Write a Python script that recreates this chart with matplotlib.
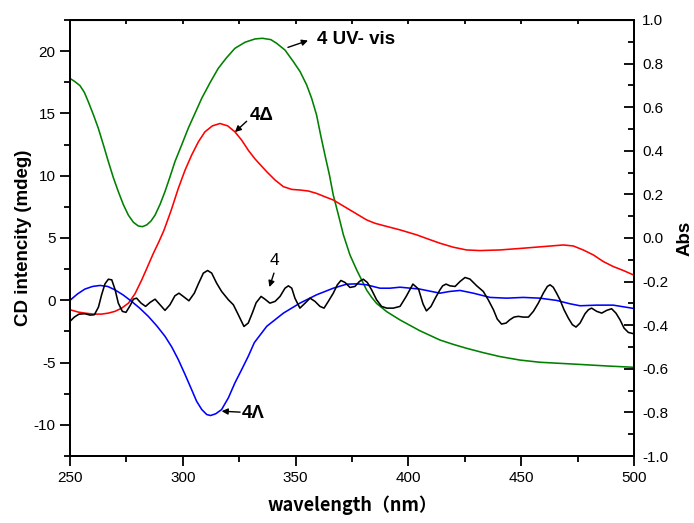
import numpy as np
import matplotlib
matplotlib.use('Agg')
import matplotlib.pyplot as plt
from matplotlib.ticker import MultipleLocator

plt.rcParams['font.family'] = ['Liberation Sans', 'DejaVu Sans']
plt.rcParams['axes.unicode_minus'] = False

# UV-vis absorbance of 4 (right axis, green)
uv_wl = [250.0, 252.2, 254.4, 256.35, 258.1, 260.3, 262.55, 264.8, 267.0, 269.2, 271.4,
         273.6, 275.85, 278.1, 280.3, 282.1, 284.0, 285.9, 287.7, 289.9, 292.1, 294.3,
         296.5, 299.5, 302.4, 305.4, 308.4, 312.05, 315.7, 319.4, 323.1, 327.6, 332.0,
         335.3, 339.0, 341.6, 345.3, 349.0, 352.0, 354.9, 357.1, 359.3, 361.1, 363.0,
         365.0, 366.7, 369.0, 371.2, 374.1, 377.1, 379.3, 381.5, 383.7, 385.9, 390.4,
         396.3, 405.0, 414.0, 419.9, 425.8, 433.2, 440.6, 449.5, 458.3, 467.2, 476.1,
         487.9, 499.7]
uv_abs = [0.732, 0.717, 0.699, 0.668, 0.625, 0.567, 0.503, 0.427, 0.350, 0.277, 0.213,
          0.154, 0.105, 0.072, 0.055, 0.052, 0.060, 0.078, 0.105, 0.154, 0.213, 0.280,
          0.350, 0.427, 0.503, 0.572, 0.641, 0.712, 0.778, 0.827, 0.870, 0.898, 0.913,
          0.916, 0.910, 0.893, 0.862, 0.809, 0.763, 0.702, 0.641, 0.564, 0.472, 0.381,
          0.289, 0.197, 0.105, 0.014, -0.078, -0.147, -0.193, -0.239, -0.272, -0.300, -0.338,
          -0.376, -0.425, -0.468, -0.488, -0.506, -0.526, -0.544, -0.560, -0.570, -0.575, -0.580,
          -0.587, -0.593]

# CD of 4-Delta (red)
delta_wl = [250.0, 253.7, 256.6, 260.3, 264.0, 267.0, 269.9, 272.9, 275.9, 278.8, 281.8,
            284.4, 286.9, 289.4, 291.6, 294.8, 298.0, 301.0, 303.9, 306.9, 309.8, 313.1,
            316.5, 319.9, 323.1, 326.1, 329.2, 332.0, 334.5, 337.2, 340.9, 344.6, 348.3,
            352.0, 355.7, 359.3, 363.0, 366.7, 370.4, 374.1, 377.8, 381.5, 385.2, 388.9,
            396.3, 403.7, 409.0, 414.0, 419.9, 425.8, 431.7, 440.6, 450.9, 459.8, 468.7,
            473.1, 477.5, 482.0, 486.4, 490.8, 495.3, 499.7]
delta_cd = [-0.76, -0.95, -1.03, -1.11, -1.11, -1.03, -0.89, -0.63, -0.23, 0.52, 1.64,
            2.71, 3.75, 4.7, 5.6, 7.2, 8.98, 10.45, 11.65, 12.72, 13.52, 14.0,
            14.19, 14.0, 13.52, 12.85, 12.0, 11.35, 10.85, 10.32, 9.65, 9.12, 8.9,
            8.85, 8.77, 8.58, 8.31, 8.05, 7.65, 7.25, 6.85, 6.45, 6.18, 6.0,
            5.65, 5.25, 4.9, 4.58, 4.26, 4.04, 3.99, 4.04, 4.18, 4.31, 4.44,
            4.36, 4.04, 3.64, 3.11, 2.71, 2.39, 2.04]

# CD of 4-Lambda (blue)
lambda_wl = [250.0, 253.4, 256.6, 260.0, 263.3, 266.7, 269.9, 273.6, 277.3, 281.0, 284.7,
             288.4, 292.1, 295.1, 298.0, 301.0, 303.9, 306.1, 308.4, 310.6, 312.3, 314.6,
             317.2, 320.2, 323.1, 326.1, 329.0, 331.7, 337.2, 344.6, 351.9, 359.3, 366.7,
             372.6, 377.1, 381.5, 387.4, 391.8, 396.3, 405.0, 414.0, 418.4, 422.9, 428.8,
             436.2, 443.6, 450.9, 458.3, 465.7, 471.6, 476.1, 483.5, 490.8, 499.7]
lambda_cd = [0.0, 0.52, 0.90, 1.11, 1.19, 1.11, 0.84, 0.42, -0.09, -0.65, -1.29,
             -2.04, -2.89, -3.75, -4.76, -5.96, -7.17, -8.1, -8.77, -9.17, -9.25, -9.11,
             -8.77, -7.83, -6.63, -5.56, -4.5, -3.4, -2.09, -1.03, -0.23, 0.44, 0.97,
             1.29, 1.32, 1.24, 0.97, 0.97, 1.05, 0.9, 0.57, 0.71, 0.79, 0.57,
             0.23, 0.17, 0.23, 0.17, -0.01, -0.28, -0.44, -0.39, -0.39, -0.65]

# CD of racemic 4 (black)
rac_wl = [250.0, 251.9, 254.0, 256.6, 258.9, 260.8, 262.6, 264.0, 265.5, 267.0, 268.5,
          270.0, 271.4, 273.2, 274.8, 276.6, 278.1, 279.5, 281.5, 283.5, 285.5, 287.7,
          289.9, 292.1, 294.3, 296.5, 298.3, 300.2, 302.7, 305.1, 306.9, 309.1, 311.0,
          312.8, 315.0, 317.2, 320.2, 322.4, 324.6, 327.1, 329.0, 330.8, 332.5, 334.7,
          336.4, 338.6, 340.9, 343.1, 345.3, 346.8, 348.3, 349.7, 351.9, 354.2, 356.4,
          358.6, 360.8, 362.6, 364.5, 366.7, 368.5, 370.1, 371.9, 374.1, 376.3, 378.3,
          380.0, 381.8, 383.7, 385.9, 388.1, 390.4, 393.3, 396.3, 399.0, 402.0, 404.5,
          406.5, 408.0, 410.0, 412.0, 414.0, 415.2, 416.7, 418.4, 420.7, 422.9, 425.1,
          427.3, 430.3, 433.2, 435.4, 437.7, 439.4, 441.3, 443.3, 445.0, 446.8, 448.7,
          450.9, 453.2, 455.4, 457.6, 459.8, 461.6, 462.8, 464.2, 465.7, 467.2, 469.0,
          470.9, 472.7, 474.3, 476.1, 478.3, 479.8, 481.2, 483.5, 485.7, 487.9, 490.1,
          492.0, 493.8, 495.6, 497.5, 499.7]
rac_cd = [-1.69, -1.35, -1.11, -1.08, -1.19, -1.16, -0.55, 0.44, 1.32, 1.69, 1.64,
          0.84, -0.23, -0.89, -0.97, -0.44, 0.09, 0.17, -0.23, -0.49, -0.17, 0.09,
          -0.36, -0.81, -0.36, 0.36, 0.57, 0.31, -0.04, 0.57, 1.32, 2.18, 2.39,
          2.18, 1.37, 0.71, 0.04, -0.36, -1.16, -2.1, -1.83, -1.03, -0.2, 0.31,
          0.09, -0.23, -0.09, 0.31, 0.97, 1.16, 0.97, 0.17, -0.63, -0.23, 0.17,
          -0.09, -0.49, -0.63, -0.09, 0.57, 1.24, 1.59, 1.43, 1.03, 1.11, 1.51,
          1.69, 1.43, 0.84, 0.04, -0.49, -0.63, -0.63, -0.49, 0.3, 1.3, 0.9,
          -0.3, -0.85, -0.5, 0.2, 0.84, 1.16, 1.3, 1.16, 1.11, 1.51, 1.83,
          1.7, 1.16, 0.71, 0.04, -0.76, -1.51, -1.91, -1.83, -1.56, -1.35, -1.29,
          -1.35, -1.35, -0.89, -0.23, 0.57, 1.11, 1.24, 1.05, 0.57, 0.04, -0.76,
          -1.43, -1.96, -2.15, -1.83, -1.08, -0.76, -0.63, -0.89, -1.03, -0.81, -0.68,
          -1.03, -1.56, -2.23, -2.58, -2.68]

fig = plt.figure(figsize=(6.94, 5.23), dpi=100)
ax = fig.add_axes([0.1009, 0.1281, 0.8126, 0.8337])
ax2 = ax.twinx()

lw = 1.15
ax2.plot(uv_wl, uv_abs, color='#008000', lw=lw)
ax.plot(delta_wl, delta_cd, color='#ff0000', lw=lw)
ax.plot(lambda_wl, lambda_cd, color='#0000ff', lw=lw)
ax.plot(rac_wl, rac_cd, color='black', lw=lw)
ax.set_zorder(ax2.get_zorder() + 1)
ax.patch.set_visible(False)

ax.set_xlim(250, 500)
ax.set_ylim(-12.5, 22.5)
ax2.set_ylim(-1.0, 1.0)

ax.xaxis.set_major_locator(MultipleLocator(50))
ax.xaxis.set_minor_locator(MultipleLocator(25))
ax.yaxis.set_major_locator(MultipleLocator(5))
ax.yaxis.set_minor_locator(MultipleLocator(2.5))
ax2.yaxis.set_major_locator(MultipleLocator(0.2))
ax2.yaxis.set_minor_locator(MultipleLocator(0.1))
ax2.yaxis.set_major_formatter(plt.FormatStrFormatter('%.1f'))

for a in (ax, ax2):
    for s in a.spines.values():
        s.set_linewidth(1.4)

ax.tick_params(which='major', direction='out', length=7, width=1.3, labelsize=11)
ax.tick_params(which='minor', direction='out', length=4, width=1.3)
ax2.tick_params(which='major', direction='in', length=7, width=1.3, labelsize=11, pad=6)
ax2.tick_params(which='minor', direction='in', length=4, width=1.3)

top = ax.secondary_xaxis('top')
top.xaxis.set_major_locator(MultipleLocator(25))
top.tick_params(direction='in', length=3, width=1.3, labeltop=False)

ax.set_xlabel('wavelength（nm）', family=['Noto Sans CJK SC'], fontweight='bold',
              fontsize=13, labelpad=8)
ax.set_ylabel('CD intencity (mdeg)', fontweight='bold', fontsize=13.5, labelpad=1)
ax2.set_ylabel('Abs', fontweight='bold', fontsize=13.5, labelpad=6)

arrow = dict(arrowstyle='-|>', color='black', lw=1.0, mutation_scale=9,
             shrinkA=0, shrinkB=0)
ax.annotate('', xy=(355.5, 20.85), xytext=(346.6, 20.3), arrowprops=arrow)
ax.text(359.4, 20.95, '4 UV- vis', fontweight='bold', fontsize=13.5, va='center')
ax.annotate('', xy=(323.1, 13.5), xytext=(328.3, 14.37), arrowprops=arrow)
ax.text(329.8, 14.85, '4Δ', fontweight='bold', fontsize=13.5, va='center')
ax.annotate('', xy=(317.2, -8.9), xytext=(325.4, -8.98), arrowprops=arrow)
ax.text(326.0, -9.05, '4Λ', fontweight='bold', fontsize=13.5, va='center')
ax.annotate('', xy=(338.4, 1.06), xytext=(340.4, 2.18), arrowprops=arrow)
ax.text(340.4, 3.2, '4', fontsize=12.5, va='center', ha='center')

fig.savefig('out.png', dpi=100)
